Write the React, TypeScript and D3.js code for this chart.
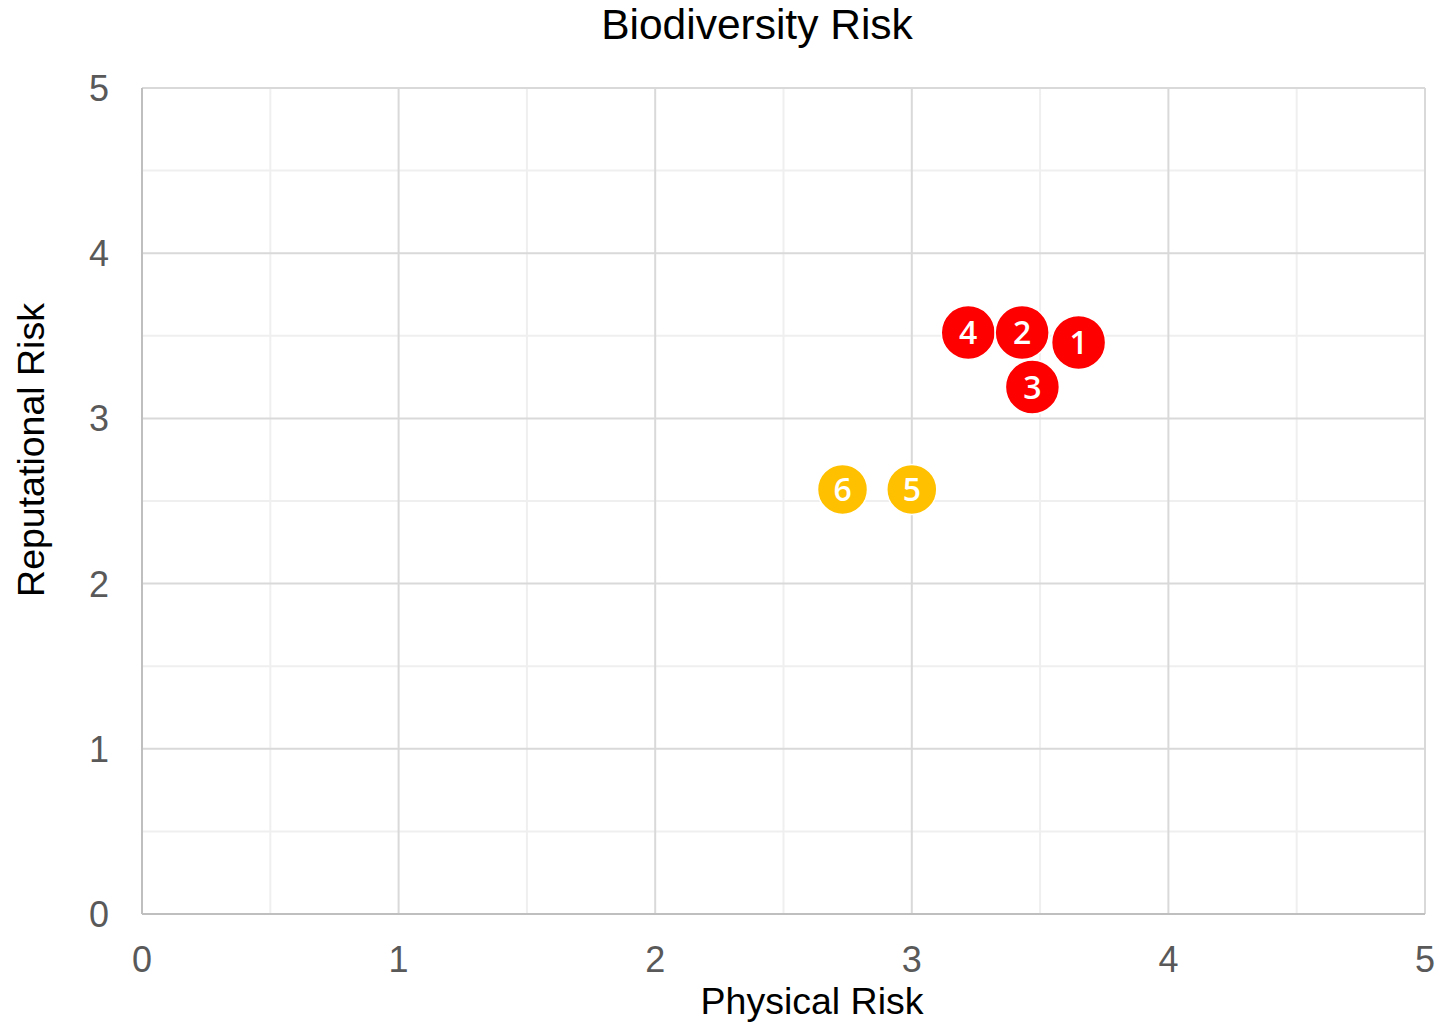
import React from 'react';
import * as d3 from 'd3';

// Chart data
const labels = ['1', '2', '3', '4', '5', '6'];
const physicalRisk = [3.65, 3.43, 3.47, 3.22, 3.0, 2.73];
const reputationalRisk = [3.46, 3.52, 3.19, 3.52, 2.57, 2.57];
const pointColors = ['#ff0000', '#ff0000', '#ff0000', '#ff0000', '#ffc000', '#ffc000'];
const pointRadius = [27, 27, 27, 27, 25, 25];
const majorTicks = [0, 1, 2, 3, 4, 5];
const minorTicks = [0.5, 1.5, 2.5, 3.5, 4.5];

const WIDTH = 1439;
const HEIGHT = 1023;
const FONT = '"Liberation Sans", Arial, sans-serif';

export default function App() {
  const margin = { top: 88, right: 14, bottom: 109, left: 142 };
  const innerW = WIDTH - margin.left - margin.right;
  const innerH = HEIGHT - margin.top - margin.bottom;

  const x = d3.scaleLinear().domain([0, 5]).range([0, innerW]);
  const y = d3.scaleLinear().domain([0, 5]).range([innerH, 0]);

  // draw later points first so lower numbers sit on top
  const order = d3.range(labels.length).reverse();

  return (
    <svg
      width={WIDTH}
      height={HEIGHT}
      style={{ position: 'absolute', left: 0, top: 0, background: '#fff' }}
    >
      <text
        x={757}
        y={39}
        textAnchor="middle"
        fontFamily={FONT}
        fontSize={42.5}
        fill="#000"
      >
        Biodiversity Risk
      </text>

      <g transform={`translate(${margin.left},${margin.top})`}>
        {/* minor gridlines */}
        {minorTicks.map(t => (
          <g key={`minor-${t}`}>
            <line x1={x(t)} x2={x(t)} y1={0} y2={innerH} stroke="#efefef" strokeWidth={2} />
            <line x1={0} x2={innerW} y1={y(t)} y2={y(t)} stroke="#efefef" strokeWidth={2} />
          </g>
        ))}
        {/* major gridlines */}
        {majorTicks.map(t => (
          <g key={`major-${t}`}>
            <line x1={x(t)} x2={x(t)} y1={0} y2={innerH} stroke="#d9d9d9" strokeWidth={2} />
            <line x1={0} x2={innerW} y1={y(t)} y2={y(t)} stroke="#d9d9d9" strokeWidth={2} />
          </g>
        ))}
        {/* axis lines */}
        <line x1={0} x2={0} y1={0} y2={innerH} stroke="#bfbfbf" strokeWidth={2} />
        <line x1={0} x2={innerW} y1={innerH} y2={innerH} stroke="#bfbfbf" strokeWidth={2} />

        {/* tick labels */}
        {majorTicks.map(t => (
          <text
            key={`xt-${t}`}
            x={x(t)}
            y={innerH + 58}
            textAnchor="middle"
            fontFamily={FONT}
            fontSize={36}
            fill="#595959"
          >
            {t}
          </text>
        ))}
        {majorTicks.map(t => (
          <text
            key={`yt-${t}`}
            x={-33}
            y={y(t) + 13}
            textAnchor="end"
            fontFamily={FONT}
            fontSize={36}
            fill="#595959"
          >
            {t}
          </text>
        ))}

        {/* points */}
        {order.map(i => (
          <g key={`pt-${labels[i]}`} transform={`translate(${x(physicalRisk[i])},${y(reputationalRisk[i])})`}>
            <circle r={pointRadius[i]} fill={pointColors[i]} stroke="#fff" strokeWidth={1.5} />
            <text
              textAnchor="middle"
              dy="0.36em"
              fontFamily='"Open Sans", "Noto Sans", sans-serif'
              fontSize={32}
              fontWeight={600}
              fill="#fff"
            >
              {labels[i]}
            </text>
          </g>
        ))}
      </g>

      <text
        x={812}
        y={1014}
        textAnchor="middle"
        fontFamily={FONT}
        fontSize={37.5}
        fill="#000"
      >
        Physical Risk
      </text>
      <text
        transform={`translate(44,450) rotate(-90)`}
        textAnchor="middle"
        fontFamily={FONT}
        fontSize={37.5}
        fill="#000"
      >
        Reputational Risk
      </text>
    </svg>
  );
}
